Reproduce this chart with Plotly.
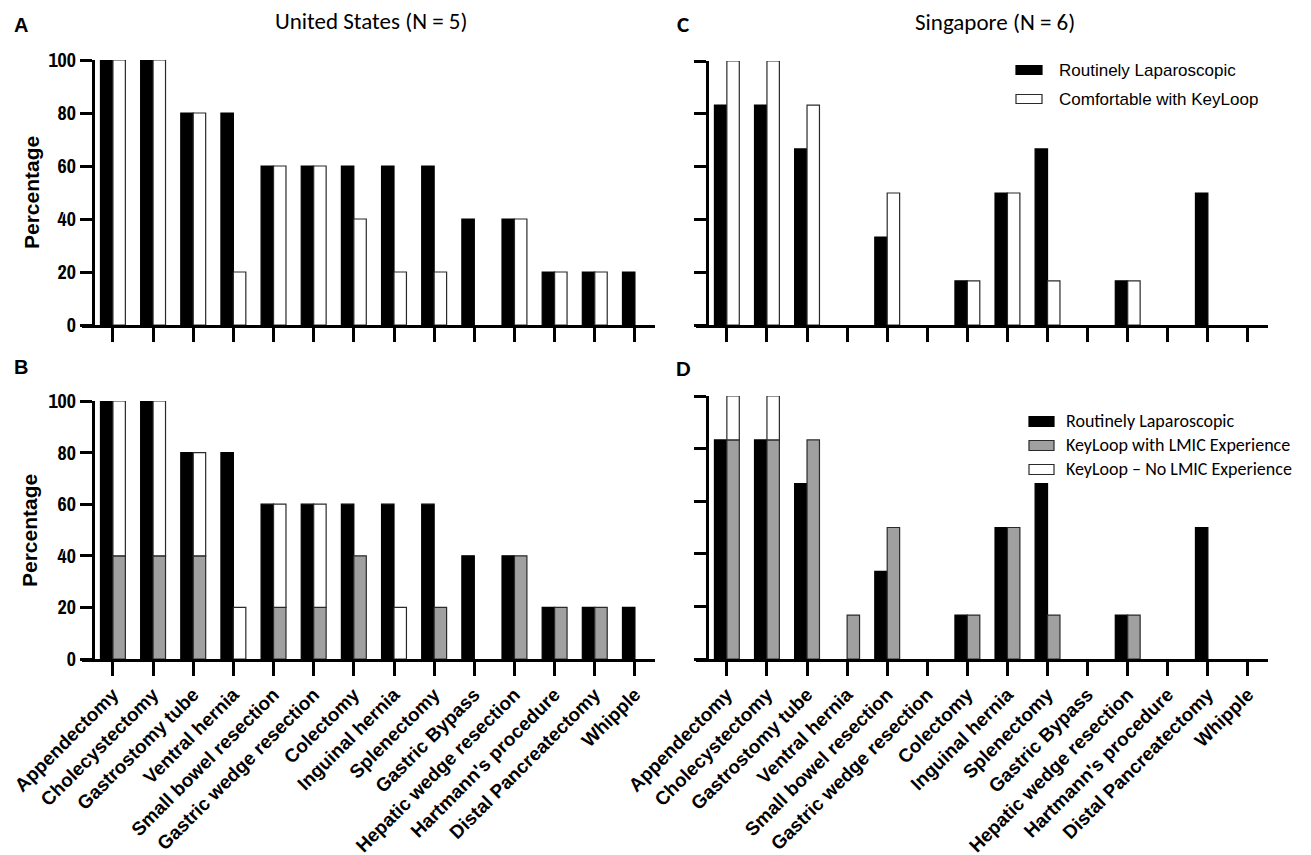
import subprocess
import plotly.graph_objects as go

W, H = 1311, 855


def fx(px):
    return px / W


def fy(py):
    return 1 - py / H


# ---------------- data ----------------
categories = [
    "Appendectomy", "Cholecystectomy", "Gastrostomy tube", "Ventral hernia",
    "Small bowel resection", "Gastric wedge resection", "Colectomy",
    "Inguinal hernia", "Splenectomy", "Gastric Bypass", "Hepatic wedge resection",
    "Hartmann's procedure", "Distal Pancreatectomy", "Whipple",
]

# United States (N = 5)
us_routine = [100, 100, 80, 80, 60, 60, 60, 60, 60, 40, 40, 20, 20, 20]
us_keyloop = [100, 100, 80, 20, 60, 60, 40, 20, 20, 0, 40, 20, 20, 0]
us_lmic = [40, 40, 40, 0, 20, 20, 40, 0, 20, 0, 40, 20, 20, 0]
us_no_lmic = [60, 60, 40, 20, 40, 40, 0, 20, 0, 0, 0, 0, 0, 0]

# Singapore (N = 6)
sg_routine = [83.3, 83.3, 66.7, 0, 33.3, 0, 16.7, 50, 66.7, 0, 16.7, 0, 50, 0]
sg_keyloop = [100, 100, 83.3, 0, 50, 0, 16.7, 50, 16.7, 0, 16.7, 0, 0, 0]
sg_lmic = [83.3, 83.3, 83.3, 16.7, 50, 0, 16.7, 50, 16.7, 0, 16.7, 0, 0, 0]
sg_no_lmic = [16.7, 16.7, 0, 0, 0, 0, 0, 0, 0, 0, 0, 0, 0, 0]

y_ticks = [0, 20, 40, 60, 80, 100]

titles = ["United States (N = 5)", "Singapore (N = 6)"]
panel_letters = ["A", "B", "C", "D"]
legend_c = ["Routinely Laparoscopic", "Comfortable with KeyLoop"]
legend_d = ["Routinely Laparoscopic", "KeyLoop with LMIC Experience",
            "KeyLoop \u2013 No LMIC Experience"]

# ---------------- fonts available ----------------
try:
    _out = subprocess.run(["fc-list", ":", "family"], capture_output=True,
                          text=True).stdout
except Exception:
    _out = ""
_fams = set(f.strip() for line in _out.splitlines() for f in line.split(","))


def pick(*names):
    for n in names:
        if n in _fams:
            return n
    return names[-1]


ARIAL = "Liberation Sans, Arial, Helvetica, sans-serif"
NARROW = pick("Liberation Sans Narrow", "Arial Narrow", "Archivo Narrow",
              "Roboto Condensed", "Liberation Sans")
HAS_CARLITO = "Carlito" in _fams
CAL = "Carlito" if HAS_CARLITO else "Lato"
TITLE_SIZE = 23 if HAS_CARLITO else 21
LEG_D_SIZE = 18 if HAS_CARLITO else 16

BLACK = "#000000"
GREY = "#a0a0a0"
EDGE = "#2a2a2a"
BAR_W = 0.31
XR = [-0.77, 13.5]

fig = go.Figure()


def bar(vals, xa, ya, fill, line, offset, base=None, lw=1.2):
    y = [v if v > 0 else None for v in vals]
    fig.add_trace(go.Bar(
        x=categories, y=y, base=base, xaxis=xa, yaxis=ya,
        offset=offset, width=BAR_W, cliponaxis=False,
        marker=dict(color=fill, line=dict(color=line, width=lw)),
        showlegend=False, hoverinfo="skip",
    ))


# Panel A
bar(us_routine, "x", "y", BLACK, BLACK, -BAR_W)
bar(us_keyloop, "x", "y", "white", EDGE, 0)
# Panel B
bar(us_routine, "x2", "y2", BLACK, BLACK, -BAR_W)
bar(us_lmic, "x2", "y2", GREY, EDGE, 0)
bar(us_no_lmic, "x2", "y2", "white", EDGE, 0, base=us_lmic)
# Panel C
bar(sg_routine, "x3", "y3", BLACK, BLACK, -BAR_W)
bar(sg_keyloop, "x3", "y3", "white", EDGE, 0)
# Panel D
bar(sg_routine, "x4", "y4", BLACK, BLACK, -BAR_W)
bar(sg_lmic, "x4", "y4", GREY, EDGE, 0)
bar(sg_no_lmic, "x4", "y4", "white", EDGE, 0, base=sg_lmic)


def xaxis(x0, x1, anchor, labels):
    return dict(
        domain=[fx(x0), fx(x1)], anchor=anchor, type="category",
        categoryorder="array", categoryarray=categories, range=XR,
        showline=True, linewidth=3, linecolor="black",
        ticks="outside", ticklen=14, tickwidth=3, tickcolor="black",
        showticklabels=labels, tickangle=-45,
        tickfont=dict(family=ARIAL, size=19, color="black", weight="bold"),
        showgrid=False, zeroline=False, automargin=False, fixedrange=True,
    )


def yaxis(y_bottom, y_top, x0, x1, labels):
    pos_px = x0 + (-0.5 - XR[0]) / (XR[1] - XR[0]) * (x1 - x0)
    return dict(
        domain=[fy(y_bottom), fy(y_top)], anchor="free", position=fx(pos_px),
        range=[0, 100], tickmode="array", tickvals=y_ticks,
        showline=True, linewidth=3, linecolor="black",
        ticks="outside", ticklen=12, tickwidth=3, tickcolor="black",
        showticklabels=labels,
        tickfont=dict(family=NARROW, size=20, color="black", weight="bold"),
        showgrid=False, zeroline=False, automargin=False, fixedrange=True,
    )


LX = (82, 655)
RX = (696, 1268)

fig.update_layout(
    width=W, height=H,
    margin=dict(l=0, r=0, t=0, b=0),
    paper_bgcolor="white", plot_bgcolor="white",
    barmode="overlay", showlegend=False,
    xaxis=xaxis(*LX, "y", False),
    yaxis=yaxis(325, 60, *LX, True),
    xaxis2=xaxis(*LX, "y2", True),
    yaxis2=yaxis(659, 401, *LX, True),
    xaxis3=xaxis(*RX, "y3", False),
    yaxis3=yaxis(325, 61, *RX, False),
    xaxis4=xaxis(*RX, "y4", True),
    yaxis4=yaxis(659, 396, *RX, False),
)

ann = []


def text(t, px, py, size, family, bold=False, angle=0, xanchor="center"):
    ann.append(dict(
        text=t, x=fx(px), y=fy(py), xref="paper", yref="paper",
        xanchor=xanchor, yanchor="middle", showarrow=False, textangle=angle,
        font=dict(family=family, size=size, color="black",
                  weight="bold" if bold else "normal"),
    ))


# titles
text(titles[0], 372, 21, TITLE_SIZE, CAL)
text(titles[1], 995, 22, TITLE_SIZE, CAL)
# panel letters
text(panel_letters[0], 21, 25, 20, ARIAL, bold=True)
text(panel_letters[1], 21, 367, 20, ARIAL, bold=True)
text(panel_letters[2], 683, 24, TITLE_SIZE, CAL, bold=True)
text(panel_letters[3], 683, 368, TITLE_SIZE, CAL, bold=True)
# y titles
text("Percentage", 31, 193, 21, ARIAL, bold=True, angle=-90)
text("Percentage", 29, 531, 21, ARIAL, bold=True, angle=-90)

shapes = []


def swatch(x0, x1, yc, h, fill, line):
    shapes.append(dict(
        type="rect", xref="paper", yref="paper",
        x0=fx(x0), x1=fx(x1), y0=fy(yc + h / 2), y1=fy(yc - h / 2),
        fillcolor=fill, line=dict(color=line, width=1.2),
    ))


# legend C
c_rows = [70, 99]
c_fills = [(BLACK, BLACK), ("white", EDGE)]
for lab, yc, (f, l) in zip(legend_c, c_rows, c_fills):
    swatch(1016, 1042, yc, 9, f, l)
    text(lab, 1057, yc, 17, ARIAL, xanchor="left")

# legend D
d_rows = [421, 445, 469]
d_fills = [(BLACK, BLACK), (GREY, EDGE), ("white", EDGE)]
for lab, yc, (f, l) in zip(legend_d, d_rows, d_fills):
    swatch(1029, 1054, yc + 0.5, 10, f, l)
    text(lab, 1064, yc, LEG_D_SIZE, CAL, xanchor="left")

fig.update_layout(annotations=ann, shapes=shapes)

fig.write_html(
    "out.html",
    config={"displayModeBar": False},
    post_script="document.body.style.margin='0';document.body.style.padding='0';"
                "document.documentElement.style.overflow='hidden';",
)
